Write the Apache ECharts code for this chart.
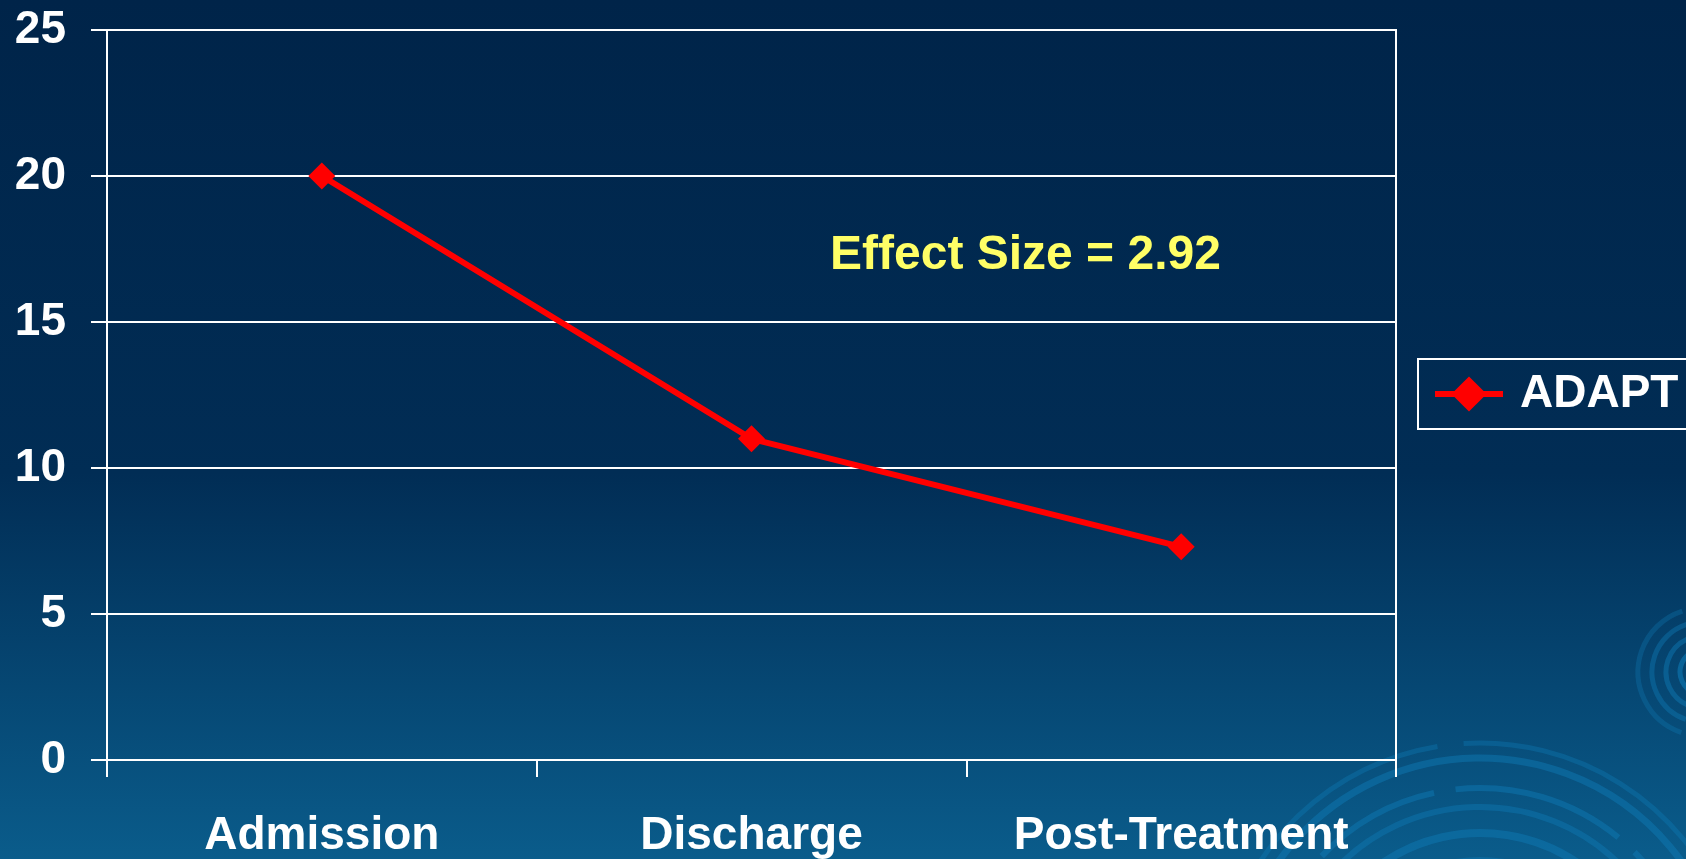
<!DOCTYPE html>
<html>
<head>
<meta charset="utf-8">
<script src="https://cdn.jsdelivr.net/npm/echarts@6/dist/echarts.min.js"></script>
<style>
  html, body { margin: 0; padding: 0; }
  #chart { width: 1686px; height: 859px; }
</style>
</head>
<body>
<div id="chart"></div>
<script>
  // values
  const categories = ['Admission', 'Discharge', 'Post-Treatment']
  const adaptScores = [20, 11, 7.3]
  const yTicks = { min: 0, max: 25, interval: 5 }
  const note = 'Effect Size = 2.92'

  const chart = echarts.init(document.getElementById('chart'))
  const font = 'Liberation Sans, Arial, sans-serif'

  // decorative rings of the slide background (bottom right)
  // [r, opacity, start, end, width]
  const rings = []
  ;[
    [263, 0.35, 3.35, 4.55, 5], [263, 0.35, 4.65, 5.9, 5],
    [248, 0.45, 3.5, 6.1, 7],
    [218, 0.45, 3.9, 4.5, 6], [218, 0.45, 4.6, 5.4, 6], [218, 0.45, 5.5, 6.0, 6],
    [199, 0.4, 3.5, 3.75, 6], [199, 0.4, 3.9, 5.5, 6],
    [173, 0.45, 3.3, 6.1, 8],
    [145, 0.4, 3.3, 6.1, 8]
  ].forEach(function (r) {
    rings.push({
      type: 'arc', silent: true, z: -1,
      shape: { cx: 1480, cy: 1006, r: r[0], startAngle: r[2], endAngle: r[3] },
      style: { stroke: 'rgba(15,125,185,' + r[1] + ')', lineWidth: r[4], fill: null }
    })
  })
  ;[[22, 0.55], [36, 0.45], [50, 0.4], [64, 0.3]].forEach(function (r) {
    rings.push({
      type: 'arc', silent: true, z: -1,
      shape: { cx: 1702, cy: 672, r: r[0], startAngle: 1.9, endAngle: 4.4 },
      style: { stroke: 'rgba(15,125,185,' + r[1] + ')', lineWidth: 5, fill: null }
    })
  })

  chart.setOption({
    backgroundColor: {
      type: 'linear', x: 0, y: 0, x2: 0, y2: 1,
      colorStops: [
        { offset: 0, color: '#002449' },
        { offset: 0.55, color: '#012d55' },
        { offset: 1, color: '#0a5c8b' }
      ]
    },
    animation: false,
    grid: {
      left: 107, right: 290, top: 30, bottom: 99,
      show: true, borderColor: '#ffffff', borderWidth: 2
    },
    legend: {
      data: ['ADAPT'],
      left: 1418, top: 359,
      orient: 'vertical',
      padding: [12, 12, 12, 14],
      borderColor: '#ffffff', borderWidth: 2,
      itemWidth: 68, itemHeight: 44,
      lineStyle: { width: 6 },
      textStyle: { color: '#ffffff', fontSize: 46, fontWeight: 'bold', fontFamily: font, padding: [0, 0, 0, 12] }
    },
    xAxis: {
      type: 'category',
      data: categories,
      boundaryGap: true,
      axisLine: { lineStyle: { color: '#ffffff', width: 2 } },
      axisTick: { show: true, interval: 0, length: 17, lineStyle: { color: '#ffffff', width: 2 } },
      axisLabel: { interval: 0, color: '#ffffff', fontSize: 46, fontWeight: 'bold', fontFamily: font, margin: 53 }
    },
    yAxis: {
      type: 'value',
      min: yTicks.min, max: yTicks.max, interval: yTicks.interval,
      axisLine: { show: true, lineStyle: { color: '#ffffff', width: 2 } },
      axisTick: { show: true, length: 16, lineStyle: { color: '#ffffff', width: 2 } },
      splitLine: { show: true, lineStyle: { color: '#ffffff', width: 2 } },
      axisLabel: { color: '#ffffff', fontSize: 46, fontWeight: 'bold', fontFamily: font, margin: 41 }
    },
    graphic: rings.concat([{
      type: 'text',
      left: 830, top: 232,
      style: { text: note, fill: '#ffff66', fontSize: 48, fontWeight: 'bold', fontFamily: font }
    }]),
    series: [{
      name: 'ADAPT',
      type: 'line',
      data: adaptScores,
      symbol: 'diamond',
      symbolSize: [27, 27],
      lineStyle: { color: '#ff0000', width: 6 },
      itemStyle: { color: '#ff0000' }
    }]
  })
</script>
</body>
</html>
